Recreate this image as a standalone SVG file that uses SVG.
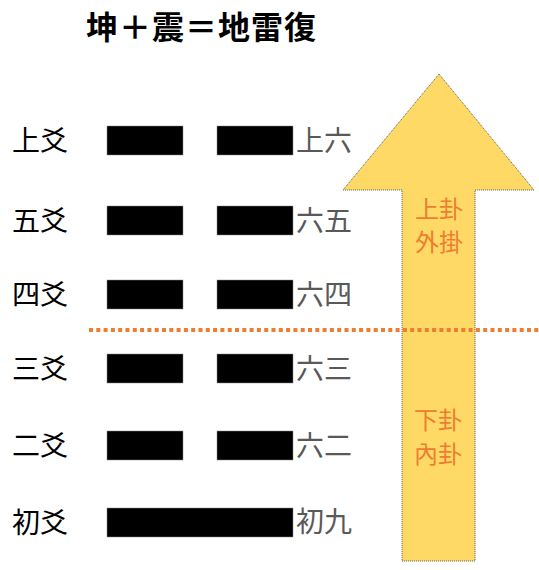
<svg xmlns="http://www.w3.org/2000/svg" width="539" height="570" viewBox="0 0 539 570">
<style>
.t{font-family:"Noto Sans CJK JP","Noto Sans CJK TC",sans-serif}
.title{font-size:32px;font-weight:bold;fill:#000}
.lab{font-size:28px;fill:#000}
.nm{font-size:28px;fill:#595959}
.gua{font-size:24px;fill:#ED7D31}
.bar{fill:#000;stroke:#888;stroke-width:0.5}
</style>
<rect width="539" height="570" fill="#fff"/>
<text class="t title" x="86" y="39" textLength="230">坤＋震＝地雷復</text>
<g id="arrow">
<polygon points="439,74 534,190 475,190 475,561 402,561 402,190 343,190" fill="#FFD966" stroke="#333" stroke-width="0.8" stroke-dasharray="1,1"/>
<text class="t gua" x="415" y="218">上卦</text>
<text class="t gua" x="415" y="251">外掛</text>
<text class="t gua" x="414" y="429">下卦</text>
<text class="t gua" x="414" y="463">內卦</text>
</g>
<g id="connectors">
<line x1="89" y1="330" x2="539" y2="330" stroke="#ED7D31" stroke-width="4" stroke-dasharray="4,3.3"/>
</g>
<g id="yao6">
<text class="t lab" x="12" y="151">上爻</text>
<rect class="bar" x="107" y="126" width="76" height="29"/>
<rect class="bar" x="217" y="126" width="76" height="29"/>
<text class="t nm" x="296" y="151">上六</text>
</g>
<g id="yao5">
<text class="t lab" x="12" y="231">五爻</text>
<rect class="bar" x="107" y="206" width="76" height="29"/>
<rect class="bar" x="217" y="206" width="76" height="29"/>
<text class="t nm" x="296" y="231">六五</text>
</g>
<g id="yao4">
<text class="t lab" x="12" y="305">四爻</text>
<rect class="bar" x="107" y="280" width="76" height="29"/>
<rect class="bar" x="217" y="280" width="76" height="29"/>
<text class="t nm" x="296" y="305">六四</text>
</g>
<g id="yao3">
<text class="t lab" x="12" y="379">三爻</text>
<rect class="bar" x="107" y="354" width="76" height="29"/>
<rect class="bar" x="217" y="354" width="76" height="29"/>
<text class="t nm" x="296" y="379">六三</text>
</g>
<g id="yao2">
<text class="t lab" x="12" y="456">二爻</text>
<rect class="bar" x="107" y="431" width="76" height="29"/>
<rect class="bar" x="217" y="431" width="76" height="29"/>
<text class="t nm" x="296" y="456">六二</text>
</g>
<g id="yao1">
<text class="t lab" x="12" y="533">初爻</text>
<rect class="bar" x="107" y="508" width="186" height="29"/>
<text class="t nm" x="296" y="532">初九</text>
</g>
</svg>
